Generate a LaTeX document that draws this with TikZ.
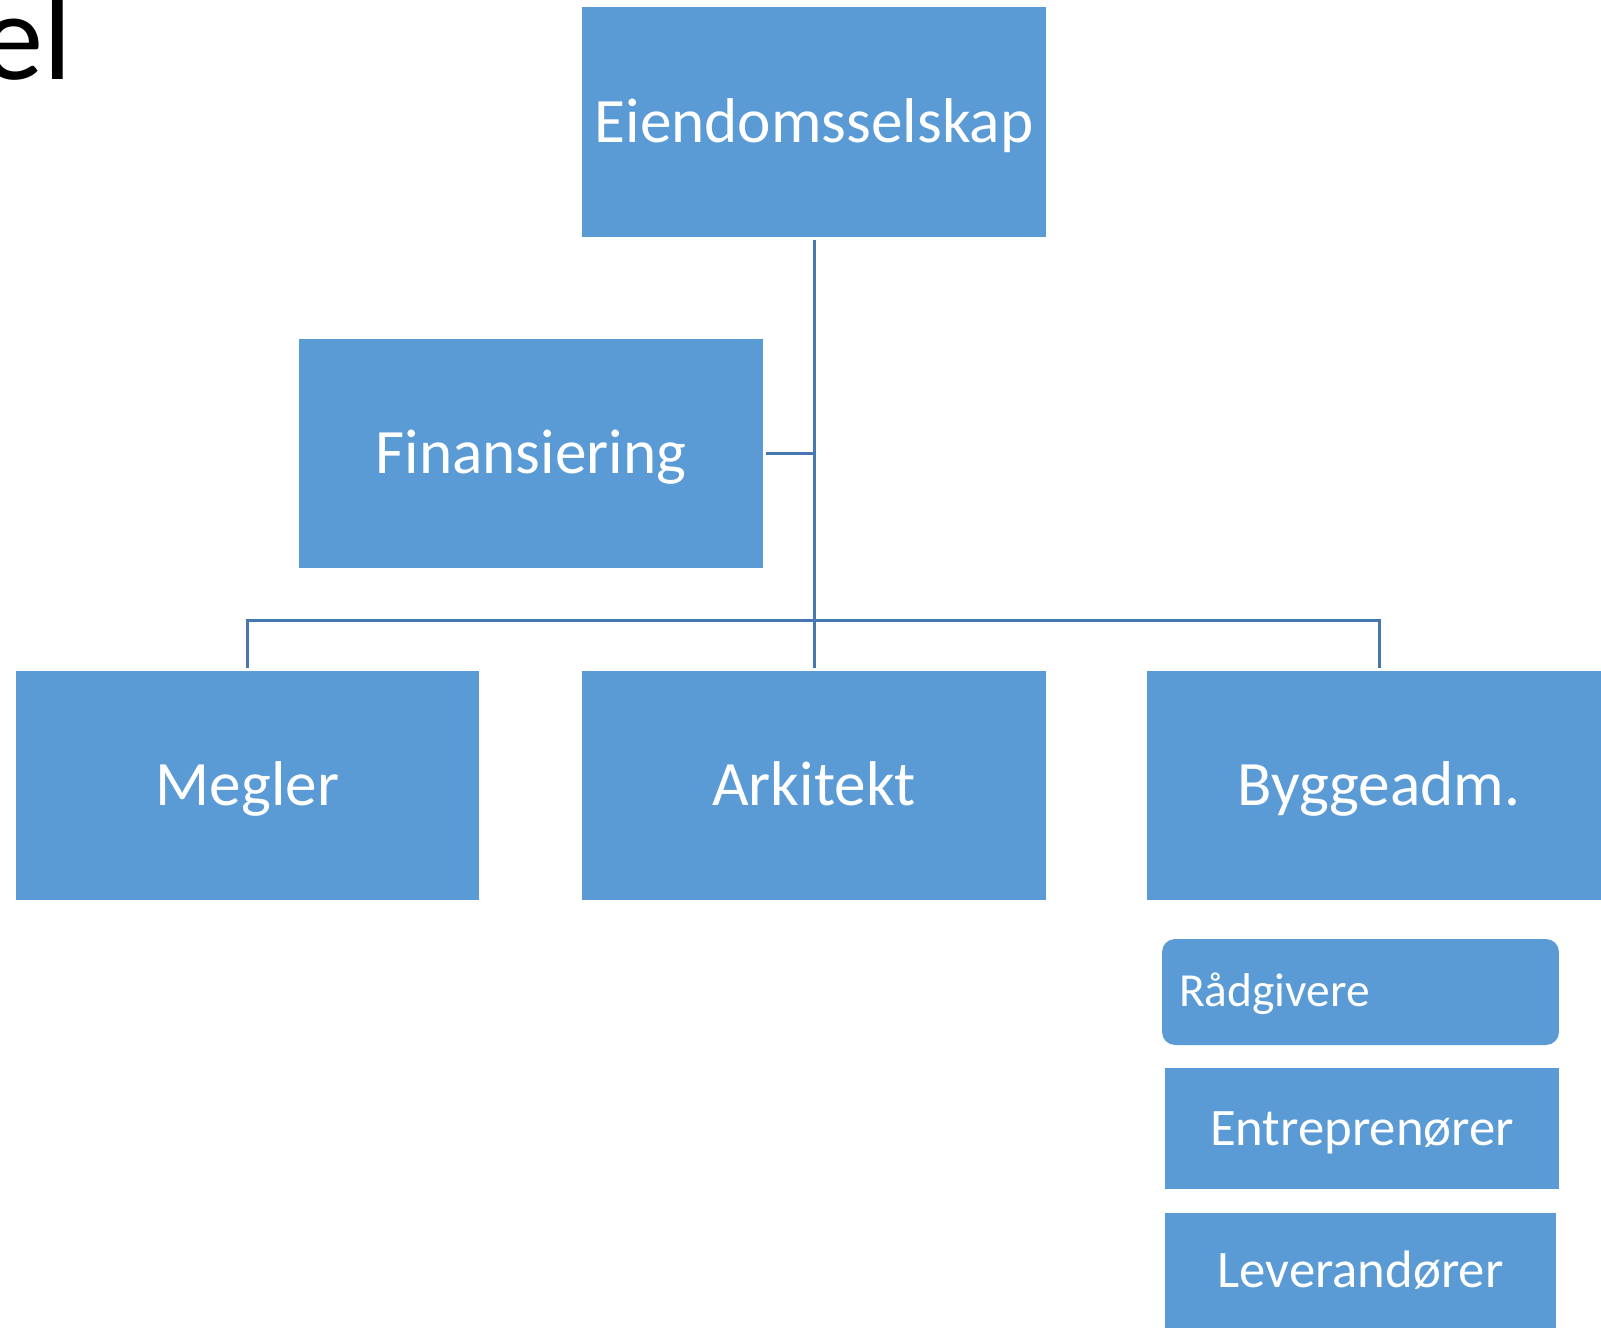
\documentclass[tikz,border=0pt]{standalone}
\usepackage{fontspec}
\setmainfont{Carlito}
\usepackage{tikz}
\usetikzlibrary{positioning}

\definecolor{boxblue}{HTML}{5B9BD5}
\definecolor{lineblue}{HTML}{4677B0}

\tikzset{
  unit/.style={fill=boxblue, text=white, inner sep=0pt, outer sep=0.06cm, text depth=0pt},
  bigunit/.style={unit, minimum width=9.28cm, minimum height=4.6cm,
    font=\fontsize{36}{43}\selectfont, text height=0.81cm},
  subunit/.style={unit, font=\fontsize{30}{36}\selectfont, text height=0.67cm},
  link/.style={draw=lineblue, line width=0.06cm},
}

\begin{document}
\begin{tikzpicture}[x=0.02cm, y=-0.02cm]
    \useasboundingbox (0,0) rectangle (1601,1328);
    \node[anchor=base east, font=\fontsize{71}{85}\selectfont] (title) at (78,80) {el};
    \node[bigunit] (eiendom) at (814,122) {Eiendomsselskap};
    \node[bigunit] (finans) at (531,453.5) {Finansiering};
    \node[bigunit] (megler) at (247.5,785.5) {Megler};
    \node[bigunit] (arkitekt) at (814,785.5) {Arkitekt};
    \node[bigunit] (bygg) at (1379,785.5) {Byggeadm.};
    \node[subunit, rounded corners=0.26cm, minimum height=2.12cm, inner xsep=0.34cm,
      text width=7.26cm, align=left, font=\fontsize{27}{32}\selectfont, text height=0.59cm]
      (raad) at (1360.5,992) {Rådgivere};
    \node[subunit, minimum width=7.88cm, minimum height=2.42cm] (entr) at (1362,1128.5) {Entreprenører};
    \node[subunit, minimum width=7.82cm, minimum height=2.3cm] (lev) at (1360.5,1270.5) {Leverandører};
    \coordinate (hub) at (814,620);
    \draw[link] (eiendom.south) to (hub);
    \draw[link] (finans.east) to (finans.east -| hub);
    \draw[link] (megler.north) |- (hub) -| (bygg.north);
    \draw[link] (hub) to (arkitekt.north);
  \end{tikzpicture}
\end{document}
